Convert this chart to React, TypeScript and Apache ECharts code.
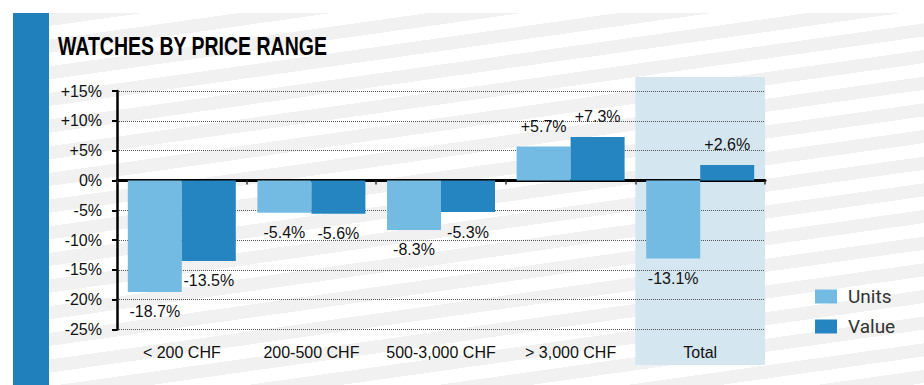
import React, { useEffect, useRef } from "react";
import * as echarts from "echarts";

const categories = ["< 200 CHF", "200-500 CHF", "500-3,000 CHF", "> 3,000 CHF", "Total"];
const unitsValues = [-18.7, -5.4, -8.3, 5.7, -13.1];
const valueValues = [-13.5, -5.6, -5.3, 7.3, 2.6];
const seriesNames = ["Units", "Value"];
const titleText = "WATCHES BY PRICE RANGE";
const yMin = -25;
const yMax = 15;
const yStep = 5;

const W = 924;
const H = 385;
const GRID_LEFT = 117;
const GRID_RIGHT_X = 765;
const GRID_TOP = 91;
const GRID_BOTTOM_Y = 329.5;

const FONT = "Liberation Sans, Arial, Helvetica, sans-serif";
const fmtPct = (v: number) => (v > 0 ? "+" : "") + v.toFixed(1) + "%";

export default function App() {
  const ref = useRef<HTMLDivElement>(null);
  useEffect(() => {
    if (!ref.current) return;
    const chart = echarts.init(ref.current, undefined, { renderer: "svg" });
    const catW = (GRID_RIGHT_X - GRID_LEFT) / categories.length;
    const mkData = (arr: number[]) =>
      arr.map((v) => ({ value: v, label: { position: v >= 0 ? "top" : "bottom" } }));
    const labelStyle = {
      show: true,
      distance: 12,
      fontSize: 16,
      color: "#111",
      fontFamily: FONT,
      formatter: (p: any) => fmtPct(p.value),
    };
    chart.setOption({
      animation: false,
      textStyle: { fontFamily: FONT },
      legend: {
        orient: "vertical",
        left: 810,
        top: 282,
        padding: 5,
        itemWidth: 22,
        itemHeight: 14,
        itemGap: 11,
        icon: "rect",
        data: seriesNames,
        textStyle: {
          fontFamily: "Roboto, Liberation Sans, sans-serif",
          fontSize: 19,
          color: "#333",
          padding: [0, 0, 0, 6],
        },
      },
      graphic: [
        {
          type: "rect",
          z: -10,
          silent: true,
          shape: {
            x: GRID_LEFT + catW * (categories.length - 1),
            y: 77,
            width: catW,
            height: 288,
          },
          style: { fill: "#d4e6f0" },
        },
        {
          type: "text",
          x: 58,
          y: 47,
          scaleX: 0.78,
          silent: true,
          style: {
            text: titleText,
            x: 0,
            y: 0,
            fill: "#000",
            font: "bold 25px " + FONT,
            textAlign: "left",
            textVerticalAlign: "middle",
          },
        },
      ],
      grid: {
        left: GRID_LEFT,
        right: W - GRID_RIGHT_X,
        top: GRID_TOP,
        bottom: H - GRID_BOTTOM_Y,
        containLabel: false,
      },
      xAxis: [
        {
          type: "category",
          data: categories,
          position: "bottom",
          axisLine: { show: false, onZero: false },
          axisTick: { show: false },
          axisLabel: { fontSize: 16, color: "#111", margin: 15, interval: 0 },
          splitLine: { show: false },
        },
        {
          type: "category",
          data: categories,
          position: "bottom",
          axisLine: { show: true, onZero: true, lineStyle: { color: "#000", width: 3 } },
          axisTick: { show: true, length: 4, lineStyle: { color: "#333", width: 1.5 } },
          axisLabel: { show: false },
          splitLine: { show: false },
        },
      ],
      yAxis: {
        type: "value",
        min: yMin,
        max: yMax,
        interval: yStep,
        axisLine: { show: true, lineStyle: { color: "#000", width: 2.5 } },
        axisTick: { show: true, length: 5, lineStyle: { color: "#000", width: 2 } },
        axisLabel: {
          fontSize: 16,
          color: "#111",
          margin: 15,
          formatter: (v: number) => (v > 0 ? "+" : "") + v + "%",
        },
        splitLine: { show: true, lineStyle: { type: "dotted", color: "#555", width: 1 } },
      },
      series: [
        {
          name: seriesNames[0],
          type: "bar",
          barWidth: 54,
          barGap: "0%",
          data: mkData(unitsValues),
          itemStyle: { color: "#74bbe3" },
          label: labelStyle,
          z: 3,
        },
        {
          name: seriesNames[1],
          type: "bar",
          barWidth: 54,
          barGap: "0%",
          data: mkData(valueValues),
          itemStyle: { color: "#2585c0" },
          label: labelStyle,
          z: 3,
        },
      ],
    });
    return () => chart.dispose();
  }, []);

  return (
    <div style={{ position: "fixed", left: 0, top: 0, width: W, height: H, background: "#fff", overflow: "hidden" }}>
      <div
        style={{
          position: "absolute",
          left: 49,
          top: 13,
          width: W - 49,
          height: H - 13,
          background:
            "repeating-linear-gradient(172deg, #f1f1f1 0px, #f1f1f1 13px, #ffffff 13px, #ffffff 26.4px)",
        }}
      />
      <div style={{ position: "absolute", left: 13, top: 13, width: 36, height: H - 13, background: "#1f80bc" }} />
      <div ref={ref} style={{ position: "absolute", left: 0, top: 0, width: W, height: H }} />
    </div>
  );
}
